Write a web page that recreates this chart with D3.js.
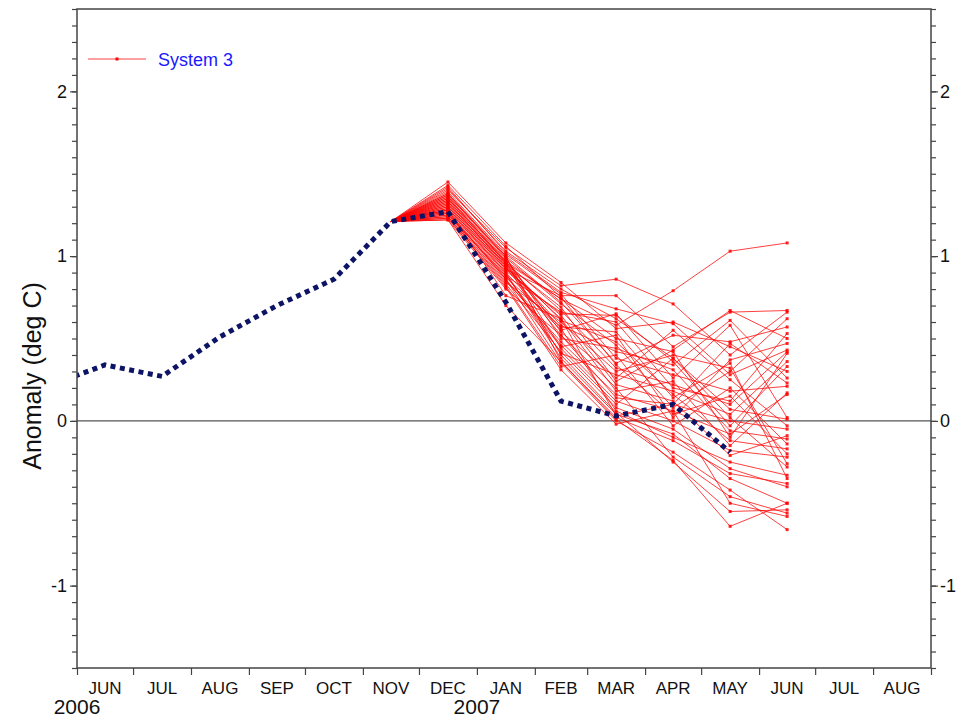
<!DOCTYPE html>
<html>
<head>
<meta charset="utf-8">
<script src="https://d3js.org/d3.v7.min.js"></script>
<title>System 3 anomaly plume</title>
<style>
body { margin: 0; background: #fff; }
text { font-family: "Liberation Sans", Arial, sans-serif; }
</style>
</head>
<body>
<svg id="canvas" width="958" height="719"></svg>
<script>
// month axis labels (Jun 2006 .. Aug 2007)
var monthLabels = ["JUN","JUL","AUG","SEP","OCT","NOV","DEC","JAN","FEB","MAR","APR","MAY","JUN","JUL","AUG"];
var yearLabels = [{year: "2006", at: "2006-06"}, {year: "2007", at: "2007-01"}];
var yTickLabels = [-1, 0, 1, 2];

// observed anomaly (blue dotted)
var obsMonths = ["2006-05","2006-06","2006-07","2006-08","2006-09","2006-10","2006-11","2006-12","2007-01","2007-02","2007-03","2007-04","2007-05"];
var obsValues = [0.21, 0.34, 0.27, 0.51, 0.70, 0.86, 1.21, 1.27, 0.72, 0.12, 0.03, 0.10, -0.19];

// System 3 ensemble members, start value at Nov then Dec..Jun
var fcMonths = ["2006-11","2006-12","2007-01","2007-02","2007-03","2007-04","2007-05","2007-06"];
var fcStart = 1.21;
var members = [
  [1.36, 0.96, 0.74, 0.58, 0.79, 1.03, 1.08],
  [1.40, 1.05, 0.82, 0.86, 0.71, 0.40, 0.66],
  [1.30, 0.92, 0.76, 0.76, 0.45, 0.66, 0.67],
  [1.42, 1.02, 0.78, 0.68, 0.59, 0.28, 0.43],
  [1.28, 0.90, 0.55, 0.65, 0.26, 0.58, 0.02],
  [1.38, 1.00, 0.72, 0.35, 0.52, 0.48, 0.57],
  [1.25, 0.88, 0.66, 0.60, 0.20, 0.12, 0.53],
  [1.45, 1.08, 0.84, 0.56, 0.60, 0.45, 0.30],
  [1.32, 0.95, 0.69, 0.24, 0.43, 0.67, 0.50],
  [1.27, 0.86, 0.45, 0.52, 0.02, 0.37, 0.47],
  [1.35, 0.97, 0.74, 0.50, 0.42, -0.10, 0.41],
  [1.24, 0.84, 0.60, 0.30, 0.40, 0.32, -0.26],
  [1.37, 0.99, 0.71, 0.46, 0.08, 0.30, 0.62],
  [1.29, 0.91, 0.65, 0.64, 0.36, -0.03, 0.33],
  [1.33, 0.94, 0.58, 0.42, 0.34, 0.61, 0.26],
  [1.23, 0.82, 0.33, 0.40, -0.03, 0.20, -0.14],
  [1.39, 1.01, 0.77, 0.38, 0.28, 0.18, 0.21],
  [1.31, 0.93, 0.62, 0.18, 0.24, -0.15, 0.17],
  [1.26, 0.87, 0.57, 0.54, 0.14, 0.35, -0.35],
  [1.34, 0.96, 0.67, 0.32, 0.22, 0.10, 0.42],
  [1.41, 1.03, 0.80, 0.62, 0.38, 0.07, 0.01],
  [1.28, 0.89, 0.41, 0.28, 0.18, 0.04, 0.36],
  [1.36, 0.98, 0.54, 0.26, 0.55, 0.25, -0.03],
  [1.22, 0.80, 0.52, 0.14, 0.10, 0.00, -0.05],
  [1.30, 0.92, 0.64, 0.22, 0.12, -0.21, -0.09],
  [1.38, 0.99, 0.50, 0.44, 0.31, -0.06, -0.11],
  [1.25, 0.85, 0.48, 0.16, 0.06, -0.08, 0.16],
  [1.33, 0.95, 0.61, 0.48, 0.16, -0.12, -0.17],
  [1.43, 1.06, 0.75, 0.34, 0.04, 0.15, -0.20],
  [1.27, 0.88, 0.46, 0.12, 0.00, -0.18, -0.22],
  [1.35, 0.97, 0.44, 0.10, 0.38, 0.02, -0.28],
  [1.24, 0.83, 0.42, 0.08, -0.05, -0.29, -0.40],
  [1.32, 0.94, 0.56, 0.06, -0.10, -0.25, -0.33],
  [1.29, 0.90, 0.38, 0.04, -0.08, -0.35, -0.50],
  [1.37, 1.00, 0.36, 0.02, -0.12, -0.32, -0.38],
  [1.26, 0.86, 0.35, 0.00, -0.19, -0.42, -0.66],
  [1.31, 0.93, 0.52, 0.20, -0.22, -0.46, -0.56],
  [1.23, 0.81, 0.31, -0.02, 0.06, -0.50, -0.58],
  [1.34, 0.96, 0.40, 0.05, -0.25, -0.55, -0.54],
  [1.28, 0.76, 0.62, 0.03, 0.10, 0.47, 0.23],
  [1.22, 0.70, 0.36, 0.01, -0.24, -0.64, -0.50]
];

var svg = d3.select("#canvas");
var plotL = 77, plotR = 931, plotT = 9, plotB = 668;

function monthStart(s) {
  var p = s.split("-");
  return new Date(Date.UTC(+p[0], +p[1] - 1, 1));
}
function monthMid(s) {
  var a = monthStart(s);
  var b = d3.utcMonth.offset(a, 1);
  return new Date((a.getTime() + b.getTime()) / 2);
}

var xScale = d3.scaleUtc()
  .domain([new Date(Date.UTC(2006, 5, 1)), new Date(Date.UTC(2007, 8, 1))])
  .range([plotL, plotR]);
var yScale = d3.scaleLinear().domain([-1.5, 2.5]).range([plotB, plotT]);

var monthTicks = d3.utcMonth.range(xScale.domain()[0], d3.utcMonth.offset(xScale.domain()[1], 1));
var minorY = d3.range(-15, 26).map(function(d) { return d / 10; });
var plainNum = function(d) { return String(d); };

svg.append("clipPath").attr("id", "plotclip")
  .append("rect").attr("x", plotL).attr("y", plotT)
  .attr("width", plotR - plotL).attr("height", plotB - plotT);

// y ticks, both sides
svg.append("g").attr("transform", "translate(" + plotL + ",0)")
  .call(d3.axisLeft(yScale).tickValues(minorY).tickSize(5).tickFormat(""));
svg.append("g").attr("transform", "translate(" + plotR + ",0)")
  .call(d3.axisRight(yScale).tickValues(minorY).tickSize(5).tickFormat(""));
svg.append("g").attr("transform", "translate(" + plotL + ",0)")
  .call(d3.axisLeft(yScale).tickValues(yTickLabels).tickSize(7).tickPadding(3).tickFormat(plainNum));
svg.append("g").attr("transform", "translate(" + plotR + ",0)")
  .call(d3.axisRight(yScale).tickValues(yTickLabels).tickSize(7).tickPadding(2).tickFormat(plainNum));

// x ticks at month boundaries
svg.append("g").attr("transform", "translate(0," + plotB + ")")
  .call(d3.axisBottom(xScale).tickValues(monthTicks).tickSize(7).tickFormat(""));

svg.selectAll(".domain").remove();
svg.selectAll(".tick line").attr("stroke", "#444").attr("stroke-width", 1.2);
svg.selectAll(".tick text").attr("font-size", 18).attr("fill", "#111")
  .style("font-family", "'Liberation Sans', Arial, sans-serif");

// month labels centred in each month
var labelMonths = d3.utcMonth.range(xScale.domain()[0], xScale.domain()[1]);
svg.append("g").selectAll("text").data(monthLabels).enter().append("text")
  .attr("x", function(d, i) { return xScale(new Date((labelMonths[i].getTime() + d3.utcMonth.offset(labelMonths[i], 1).getTime()) / 2)); })
  .attr("y", 694)
  .attr("text-anchor", "middle")
  .attr("font-size", 17)
  .attr("fill", "#111")
  .text(function(d) { return d; });

svg.append("g").selectAll("text").data(yearLabels).enter().append("text")
  .attr("x", function(d) { return xScale(monthStart(d.at)); })
  .attr("y", 714)
  .attr("text-anchor", "middle")
  .attr("font-size", 21)
  .attr("fill", "#111")
  .text(function(d) { return d.year; });

// y title
svg.append("text")
  .attr("transform", "translate(41,376) rotate(-90)")
  .attr("text-anchor", "middle")
  .attr("font-size", 25)
  .attr("fill", "#111")
  .text("Anomaly (deg C)");

// zero line
svg.append("line")
  .attr("x1", plotL).attr("x2", plotR)
  .attr("y1", yScale(0)).attr("y2", yScale(0))
  .attr("stroke", "#555").attr("stroke-width", 1.2);

var plot = svg.append("g").attr("clip-path", "url(#plotclip)");

// ensemble members
var line = d3.line()
  .x(function(d) { return xScale(d.t); })
  .y(function(d) { return yScale(d.v); });

var memberData = members.map(function(m) {
  var vals = [fcStart].concat(m);
  return vals.map(function(v, i) { return {t: monthMid(fcMonths[i]), v: v}; });
});

plot.append("g").selectAll("path").data(memberData).enter().append("path")
  .attr("d", line)
  .attr("fill", "none")
  .attr("stroke", "#ff0000")
  .attr("stroke-opacity", 0.75)
  .attr("stroke-width", 1);

var pts = [];
memberData.forEach(function(m) { m.slice(1).forEach(function(p) { pts.push(p); }); });
plot.append("g").selectAll("rect").data(pts).enter().append("rect")
  .attr("x", function(d) { return xScale(d.t) - 1.5; })
  .attr("y", function(d) { return yScale(d.v) - 1.5; })
  .attr("width", 3).attr("height", 3)
  .attr("fill", "#ff0000").attr("fill-opacity", 0.85);

// observed dotted line
var obsData = obsMonths.map(function(m, i) { return {t: monthMid(m), v: obsValues[i]}; });
plot.append("path")
  .attr("d", line(obsData))
  .attr("fill", "none")
  .attr("stroke", "#0d1466")
  .attr("stroke-width", 5)
  .attr("stroke-dasharray", "5,4.5");

// frame
svg.append("rect")
  .attr("x", plotL).attr("y", plotT)
  .attr("width", plotR - plotL).attr("height", plotB - plotT)
  .attr("fill", "none").attr("stroke", "#444").attr("stroke-width", 1.5);

// legend
var lg = svg.append("g");
lg.append("line").attr("x1", 88).attr("x2", 146).attr("y1", 59).attr("y2", 59)
  .attr("stroke", "#ff0000").attr("stroke-opacity", 0.75).attr("stroke-width", 1);
lg.append("rect").attr("x", 115.5).attr("y", 57.5).attr("width", 3).attr("height", 3).attr("fill", "#ff0000");
lg.append("text").attr("x", 158).attr("y", 66).attr("font-size", 18).attr("fill", "#1a1aff").text("System 3");
</script>
</body>
</html>
